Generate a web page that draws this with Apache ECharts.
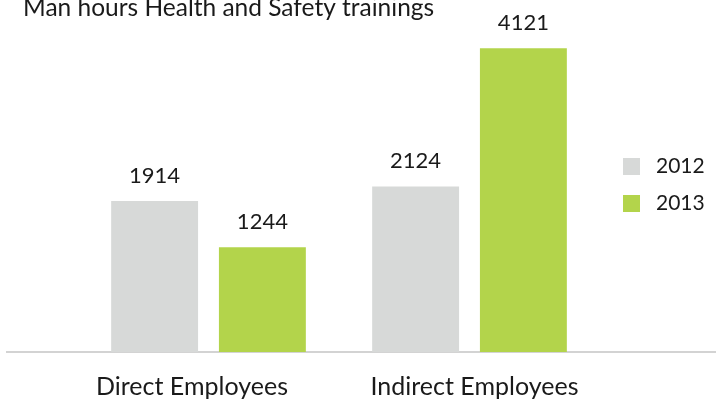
<!DOCTYPE html>
<html>
<head>
<meta charset="utf-8">
<script src="https://cdn.jsdelivr.net/npm/echarts@6/dist/echarts.min.js"></script>
<style>
  html, body { margin: 0; padding: 0; background: #fff; }
  #chart { width: 716px; height: 419px; }
</style>
</head>
<body>
<div id="chart"></div>
<script>
const categories = ['Direct Employees', 'Indirect Employees']
const years = ['2012', '2013']
const values2012 = [1914, 2124]
const values2013 = [1244, 4121]

const chart = echarts.init(document.getElementById('chart'))

const barLabel = {
  show: true,
  position: 'top',
  distance: 14,
  color: '#1a1a1a',
  fontFamily: 'Lato',
  fontSize: 22
}

// 分类标签在原图里并不完全居中，用 padding 微调
const labelPadding = [[0, 33, 0, 0], [0, 0, 0, 10]]

chart.setOption({
  animation: false,
  textStyle: { fontFamily: 'Lato' },
  title: {
    text: 'Man hours Health and Safety trainings',
    left: 18,
    top: -9,
    textStyle: { fontFamily: 'Lato', fontSize: 24.5, fontWeight: 'normal', color: '#1a1a1a' }
  },
  legend: {
    data: years,
    orient: 'vertical',
    left: 623,
    top: 156,
    padding: 0,
    itemWidth: 17,
    itemHeight: 17,
    itemGap: 16,
    icon: 'rect',
    textStyle: { fontFamily: 'Lato', fontSize: 21, color: '#1a1a1a', padding: [0, 0, 0, 11] }
  },
  grid: {
    left: 78,
    right: 116,
    top: 22,
    bottom: 67
  },
  xAxis: {
    type: 'category',
    data: categories.map((c, i) => ({ value: c, textStyle: { padding: labelPadding[i] } })),
    axisTick: { show: false },
    axisLine: { show: false },
    axisLabel: { interval: 0, hideOverlap: false, margin: 22, fontFamily: 'Lato', fontSize: 25, color: '#1a1a1a' }
  },
  yAxis: {
    type: 'value',
    min: -270,
    max: 4500,
    startValue: -270,
    show: false,
    splitLine: { show: false }
  },
  // 底部横线，贯穿整个宽度
  graphic: [
    {
      type: 'line',
      shape: { x1: 6, y1: 352, x2: 716, y2: 352 },
      style: { stroke: '#c4c4c4', lineWidth: 1.5 }
    }
  ],
  series: [
    {
      name: '2012',
      type: 'bar',
      barWidth: '33.3%',
      barGap: '24%',
      color: '#d7d9d8',
      label: barLabel,
      data: values2012
    },
    {
      name: '2013',
      type: 'bar',
      barWidth: '33.3%',
      color: '#b3d44b',
      label: barLabel,
      data: values2013
    }
  ]
})
</script>
</body>
</html>
